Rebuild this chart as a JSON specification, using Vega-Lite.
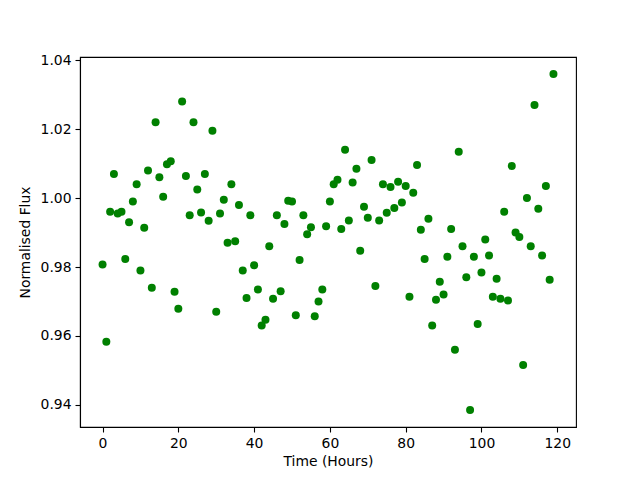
{
  "$schema": "https://vega.github.io/schema/vega-lite/v6.json",
  "width": 496,
  "height": 370,
  "autosize": {"type": "none"},
  "padding": {"left": 80, "top": 57, "right": 64, "bottom": 53},
  "background": "white",
  "config": {
    "view": {"stroke": "black", "strokeWidth": 1.1},
    "axis": {
      "labelFont": "DejaVu Sans",
      "titleFont": "DejaVu Sans",
      "labelFontSize": 13.9,
      "titleFontSize": 13.9,
      "titleFontWeight": "normal",
      "labelColor": "black",
      "titleColor": "black",
      "tickColor": "black",
      "domainColor": "black",
      "tickSize": 5,
      "tickWidth": 1.1,
      "domainWidth": 1.1,
      "grid": false,
      "labelPadding": 4
    }
  },
  "data": {
    "values": [
      {"t": 0, "f": 0.9807}, {"t": 1, "f": 0.9583}, {"t": 2, "f": 0.996}, {"t": 3, "f": 1.007}, {"t": 4, "f": 0.9955},
      {"t": 5, "f": 0.996}, {"t": 6, "f": 0.9823}, {"t": 7, "f": 0.993}, {"t": 8, "f": 0.999}, {"t": 9, "f": 1.004},
      {"t": 10, "f": 0.979}, {"t": 11, "f": 0.9914}, {"t": 12, "f": 1.008}, {"t": 13, "f": 0.974}, {"t": 14, "f": 1.022},
      {"t": 15, "f": 1.006}, {"t": 16, "f": 1.0004}, {"t": 17, "f": 1.0098}, {"t": 18, "f": 1.0107}, {"t": 19, "f": 0.9728},
      {"t": 20, "f": 0.9679}, {"t": 21, "f": 1.028}, {"t": 22, "f": 1.0064}, {"t": 23, "f": 0.995}, {"t": 24, "f": 1.022},
      {"t": 25, "f": 1.0025}, {"t": 26, "f": 0.9958}, {"t": 27, "f": 1.007}, {"t": 28, "f": 0.9934}, {"t": 29, "f": 1.0195},
      {"t": 30, "f": 0.967}, {"t": 31, "f": 0.9955}, {"t": 32, "f": 0.9995}, {"t": 33, "f": 0.987}, {"t": 34, "f": 1.004},
      {"t": 35, "f": 0.9875}, {"t": 36, "f": 0.998}, {"t": 37, "f": 0.979}, {"t": 38, "f": 0.971}, {"t": 39, "f": 0.995},
      {"t": 40, "f": 0.9805}, {"t": 41, "f": 0.9735}, {"t": 42, "f": 0.963}, {"t": 43, "f": 0.9647}, {"t": 44, "f": 0.986},
      {"t": 45, "f": 0.9708}, {"t": 46, "f": 0.995}, {"t": 47, "f": 0.973}, {"t": 48, "f": 0.9925}, {"t": 49, "f": 0.9992},
      {"t": 50, "f": 0.999}, {"t": 51, "f": 0.966}, {"t": 52, "f": 0.982}, {"t": 53, "f": 0.995}, {"t": 54, "f": 0.9895},
      {"t": 55, "f": 0.9915}, {"t": 56, "f": 0.9657}, {"t": 57, "f": 0.970}, {"t": 58, "f": 0.9735}, {"t": 59, "f": 0.9918},
      {"t": 60, "f": 0.999}, {"t": 61, "f": 1.004}, {"t": 62, "f": 1.0053}, {"t": 63, "f": 0.991}, {"t": 64, "f": 1.014},
      {"t": 65, "f": 0.9935}, {"t": 66, "f": 1.0045}, {"t": 67, "f": 1.0085}, {"t": 68, "f": 0.9847}, {"t": 69, "f": 0.9975},
      {"t": 70, "f": 0.9943}, {"t": 71, "f": 1.011}, {"t": 72, "f": 0.9745}, {"t": 73, "f": 0.9935}, {"t": 74, "f": 1.004},
      {"t": 75, "f": 0.9957}, {"t": 76, "f": 1.0032}, {"t": 77, "f": 0.9971}, {"t": 78, "f": 1.0047}, {"t": 79, "f": 0.9987},
      {"t": 80, "f": 1.0035}, {"t": 81, "f": 0.9714}, {"t": 82, "f": 1.0015}, {"t": 83, "f": 1.0096}, {"t": 84, "f": 0.9908},
      {"t": 85, "f": 0.9823}, {"t": 86, "f": 0.994}, {"t": 87, "f": 0.963}, {"t": 88, "f": 0.9705}, {"t": 89, "f": 0.9757},
      {"t": 90, "f": 0.972}, {"t": 91, "f": 0.983}, {"t": 92, "f": 0.991}, {"t": 93, "f": 0.956}, {"t": 94, "f": 1.0134},
      {"t": 95, "f": 0.986}, {"t": 96, "f": 0.977}, {"t": 97, "f": 0.9385}, {"t": 98, "f": 0.983}, {"t": 99, "f": 0.9635},
      {"t": 100, "f": 0.9784}, {"t": 101, "f": 0.988}, {"t": 102, "f": 0.9833}, {"t": 103, "f": 0.9714}, {"t": 104, "f": 0.9766},
      {"t": 105, "f": 0.9708}, {"t": 106, "f": 0.996}, {"t": 107, "f": 0.9703}, {"t": 108, "f": 1.0093}, {"t": 109, "f": 0.990},
      {"t": 110, "f": 0.9887}, {"t": 111, "f": 0.9516}, {"t": 112, "f": 1.000}, {"t": 113, "f": 0.986}, {"t": 114, "f": 1.027},
      {"t": 115, "f": 0.9969}, {"t": 116, "f": 0.9833}, {"t": 117, "f": 1.0035}, {"t": 118, "f": 0.9763}, {"t": 119, "f": 1.036}
    ]
  },
  "mark": {"type": "circle", "color": "#008000", "opacity": 1, "size": 64},
  "encoding": {
    "x": {
      "field": "t", "type": "quantitative",
      "scale": {"domain": [-5.95, 124.95], "nice": false, "zero": false},
      "axis": {"title": "Time (Hours)", "values": [0, 20, 40, 60, 80, 100, 120], "format": "d", "titlePadding": 5}
    },
    "y": {
      "field": "f", "type": "quantitative",
      "scale": {"domain": [0.9336, 1.0409], "nice": false, "zero": false},
      "axis": {"title": "Normalised Flux", "values": [0.94, 0.96, 0.98, 1.0, 1.02, 1.04], "format": ".2f", "titlePadding": 8}
    }
  }
}
